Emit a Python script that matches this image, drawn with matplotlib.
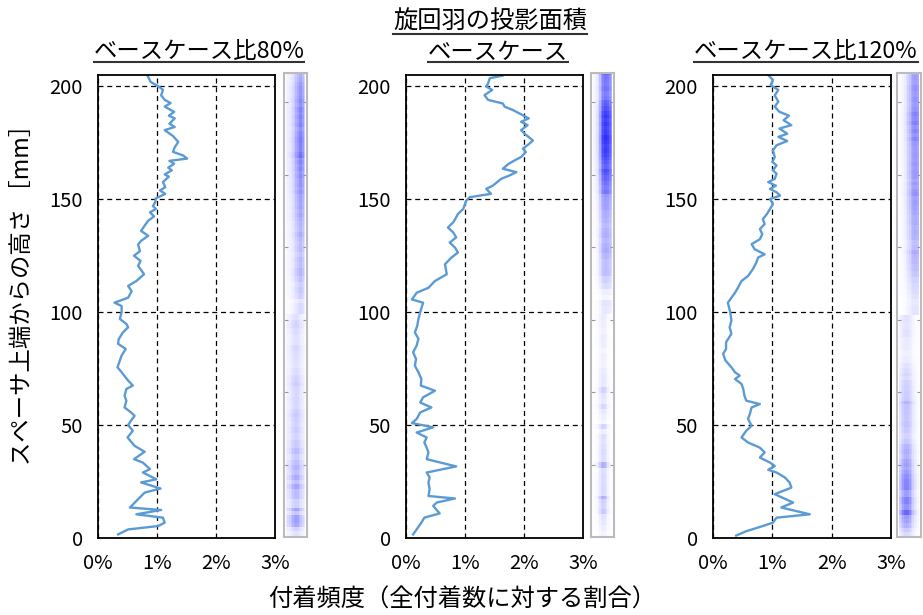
import numpy as np
import matplotlib.pyplot as plt
from matplotlib.colors import LinearSegmentedColormap
from matplotlib.lines import Line2D

plt.rcParams['font.family'] = ['Noto Sans CJK JP', 'DejaVu Sans']

title = '旋回羽の投影面積'
panel_titles = ['ベースケース比80%', 'ベースケース', 'ベースケース比120%']
ylabel = 'スペーサ上端からの高さ ［mm］'
xlabel = '付着頻度（全付着数に対する割合）'
xticks = [0, 1, 2, 3]
xticklabels = ['0%', '1%', '2%', '3%']
yticks = [0, 50, 100, 150, 200]

# height [mm] / frequency [%], top to bottom
h80 = [204.7, 202, 200, 198.5, 196, 194, 192.6, 191, 188.7, 187, 185.8, 183.5, 182, 180.6,
       178, 175.4, 173, 171, 169.4, 168, 167, 165.7, 164, 162.8, 161, 160, 157.6, 155.3,
       153.9, 152.4, 150.4, 148.7, 147, 145.7, 144.2, 142.4, 140.5, 138.3, 136, 133.8,
       131.6, 130, 127, 125, 122.7, 120.5, 116.8, 113.8, 111.6, 109.3, 106.4, 104.2, 102.7,
       100, 97, 94.8, 93.3, 91, 88, 86, 83.7, 80.8, 78.6, 75.6, 73.4, 69.7, 67.5, 66, 63,
       60.8, 57.8, 55.6, 54.1, 52, 50, 47.5, 44.5, 40.8, 38.2, 34.9, 33.4, 30.5, 29, 26,
       24.6, 21.9, 20.1, 13.5, 12.4, 10.5, 9, 6.8, 5.3, 3.8, 1.6]
f80 = [0.84, 0.89, 1.02, 1.10, 1.07, 1.13, 1.23, 1.13, 1.29, 1.20, 1.30, 1.21, 1.30, 1.13,
       1.27, 1.36, 1.30, 1.27, 1.44, 1.51, 1.21, 1.29, 1.19, 1.25, 1.13, 1.20, 1.10, 1.14,
       1.05, 1.14, 0.98, 0.97, 0.93, 0.98, 0.88, 0.95, 0.85, 0.79, 0.73, 0.85,
       0.73, 0.68, 0.71, 0.61, 0.72, 0.68, 0.78, 0.65, 0.51, 0.57, 0.51, 0.28, 0.40,
       0.40, 0.37, 0.48, 0.51, 0.42, 0.35, 0.34, 0.47, 0.40, 0.37, 0.33, 0.40, 0.51, 0.59, 0.48, 0.45,
       0.48, 0.45, 0.56, 0.62, 0.56, 0.51, 0.59, 0.50, 0.62, 0.79, 0.61, 0.76, 0.88, 0.76, 0.99,
       0.73, 1.06, 0.79, 0.54, 1.07, 0.65, 1.10, 1.13, 1.02, 0.51, 0.34]

h100 = [204.7, 203.6, 201.3, 199.9, 198.4, 196.1, 194, 192.4, 191, 189.5, 187.2, 185.8, 184.3,
        182.8, 180.6, 179, 176, 174.6, 172.4, 170.9, 168.7, 167.2, 165.7, 163.5, 162, 160.5,
        159, 156, 154.6, 152.4, 150.9, 149.4, 147.2, 145.7, 143.5, 142, 139.8, 137.5, 135.3,
        133.1, 130.8, 128.6, 126.4, 124.2, 121.2, 116.8, 113.8, 110.8, 108.6, 105.6, 104.2,
        100, 97, 94, 91, 88.2, 85.2, 82.2, 79.3, 76.3, 73.4, 70.4, 67.5, 65.2, 62.3, 60,
        57.8, 55.6, 52.7, 50.9, 49, 46.7, 44.5, 42.3, 40, 37.9, 34.9, 31.7, 29, 26.8, 24.6,
        21.6, 18.6, 17.5, 15.7, 14.2, 10.9, 9, 6.8, 3.8, 1.6]
f100 = [1.63, 1.42, 1.39, 1.36, 1.46, 1.33, 1.39, 1.64, 1.67, 1.81, 1.98, 2.08, 1.95,
        2.06, 1.95, 2.01, 2.15, 2.09, 1.98, 2.03, 1.95, 1.84, 1.74, 1.64, 1.87, 1.75,
        1.61, 1.47, 1.36, 1.44, 1.08, 1.02, 0.99, 0.97, 0.88, 0.85, 0.80, 0.71, 0.80,
        0.85, 0.74, 0.83, 0.88, 0.77, 0.66, 0.69, 0.49, 0.38, 0.18, 0.10, 0.29,
        0.24, 0.21, 0.19, 0.15, 0.21, 0.18, 0.12, 0.17, 0.15, 0.21, 0.26, 0.25, 0.49, 0.29, 0.24,
        0.43, 0.24, 0.18, 0.10, 0.46, 0.18, 0.35, 0.31, 0.35, 0.38, 0.35, 0.85, 0.35, 0.40, 0.38,
        0.40, 0.38, 0.83, 0.52, 0.46, 0.57, 0.31, 0.26, 0.18, 0.12]

h120 = [205, 202.8, 200.6, 198.4, 196, 193.2, 191, 188.7, 187, 185, 182.8, 181.3, 179, 177.6,
        175.8, 173.9, 171.6, 168.7, 166.5, 165, 162.8, 161.3, 159, 157.6, 156, 154.6, 153.1,
        151.6, 150.1, 147.9, 145.7, 143.5, 141.2, 139, 136.8, 134.6, 132.3, 130.1, 127.9,
        125.6, 124.2, 122, 119, 116, 113.8, 110.8, 108.6, 106.4, 104.2, 100, 96.3, 93.3,
        90.4, 86.7, 83.7, 81.5, 78.6, 75.6, 73.4, 71.9, 70.4, 68.2, 66, 63, 60.8, 59.3, 57.8,
        54.9, 52.7, 49.7, 47.5, 44.5, 42.3, 40, 37.9, 35.6, 33.4, 31.9, 30.2, 29, 26.8, 24.6,
        22.3, 19.4, 15.7, 13.5, 10.5, 9, 6.8, 5.3, 3, 1.1]
f120 = [0.93, 1.01, 0.97, 1.10, 1.04, 1.10, 1.04, 1.12, 1.28, 1.19, 1.32, 1.12, 1.25, 1.10,
        1.25, 1.07, 1.01, 1.04, 1.00, 1.07, 1.01, 1.07, 1.04, 0.93, 1.06, 0.96, 1.07,
        1.13, 0.96, 1.01, 0.96, 0.91, 0.84, 0.87, 0.79, 0.83, 0.79, 0.65, 0.70,
        0.87, 0.76, 0.73, 0.67, 0.59, 0.48, 0.42, 0.37, 0.31, 0.25, 0.29, 0.31, 0.28,
        0.31, 0.22, 0.22, 0.17, 0.21, 0.31, 0.37, 0.45, 0.37, 0.48, 0.51, 0.53, 0.56, 0.79, 0.65,
        0.62, 0.59, 0.65, 0.56, 0.48, 0.59, 0.79, 0.87, 0.79, 0.96, 1.04, 0.93, 1.07, 1.21, 1.29,
        1.32, 1.04, 1.35, 1.15, 1.63, 1.07, 1.01, 0.84, 0.56, 0.39]

# horizontal weight of the deposit strips (12 columns), above / below 100 mm
cols80_up = [0.10, 0.15, 0.2, 0.25, 0.35, 0.5, 0.65, 0.8, 1.0, 1.0, 0.8, 0.45]
cols80_lo = [0.25, 0.35, 0.45, 0.6, 0.75, 0.85, 0.9, 0.85, 0.7, 0.55, 0.4, 0.25]
cols100_up = [0.05, 0.08, 0.15, 0.25, 0.45, 0.7, 0.9, 1.0, 1.0, 0.95, 0.8, 0.6]
cols100_lo = [0.05, 0.1, 0.2, 0.35, 0.6, 0.9, 1.0, 0.9, 0.6, 0.35, 0.15, 0.05]
cols120_up = [0.05, 0.08, 0.12, 0.2, 0.3, 0.45, 0.6, 0.8, 0.95, 1.0, 1.0, 0.9]
cols120_lo = [0.45, 0.6, 0.8, 0.95, 1.0, 0.95, 0.8, 0.6, 0.4, 0.25, 0.15, 0.1]

heights = [h80, h100, h120]
freqs = [f80, f100, f120]
cols = [(cols80_up, cols80_lo), (cols100_up, cols100_lo), (cols120_up, cols120_lo)]

line_color = '#5b9bd5'
cmap = LinearSegmentedColormap.from_list('deposit', ['#ffffff', '#2020ff'])

fig = plt.figure(figsize=(9.23, 6.15), dpi=100)

ax_rects = [[0.1062, 0.1252, 0.1918, 0.7528],
            [0.4399, 0.1252, 0.1918, 0.7528],
            [0.7725, 0.1252, 0.1929, 0.7528]]
strip_rects = [[0.3077, 0.1268, 0.0249, 0.7545],
               [0.6403, 0.1268, 0.0249, 0.7545],
               [0.9718, 0.1268, 0.0260, 0.7545]]
title_x = [199 / 923, 498 / 923, 806 / 923]

sub_texts = []
for i in range(3):
    ax = fig.add_axes(ax_rects[i])
    ax.plot(freqs[i], heights[i], color=line_color, lw=1.7)
    ax.set_xlim(0, 3)
    ax.set_ylim(0, 205)
    ax.set_xticks(xticks)
    ax.set_xticklabels(xticklabels)
    ax.set_yticks(yticks)
    ax.tick_params(length=0, labelsize=14.5, pad=11)
    ax.grid(True, color='black', ls=(0, (4, 3)), lw=0.9)
    for sp in ax.spines.values():
        sp.set_linewidth(1.3)
        sp.set_color('black')

    # deposit strip
    sx = fig.add_axes(strip_rects[i])
    h = np.array(heights[i])[::-1]
    f = np.array(freqs[i])[::-1]
    edges = np.concatenate([[0], (h[1:] + h[:-1]) / 2, [205]])
    up, lo = cols[i]
    img = np.array([np.array(up if hh >= 100 else lo) * ff for hh, ff in zip(h, f)])
    sx.pcolormesh(np.linspace(0.08, 0.92, len(up) + 1), edges, img,
                  cmap=cmap, vmin=0, vmax=2.3, shading='flat')
    sx.set_xlim(0, 1)
    sx.set_ylim(0, 205)
    sx.set_xticks([])
    sx.set_yticks([32, 64, 96, 128, 160, 192])
    sx.tick_params(axis='y', direction='in', length=3, color='#999999',
                   left=True, right=True, labelleft=False)
    for sp in sx.spines.values():
        sp.set_linewidth(1.5)
        sp.set_color('#bbbbbb')

    sub_texts.append(fig.text(title_x[i], 1 - 52 / 615, panel_titles[i],
                              ha='center', va='center', fontsize=16.8))

main_title = fig.text(490 / 923, 1 - 22 / 615, title, ha='center', va='center', fontsize=17.5)
fig.text(22 / 923, 0.53, ylabel, rotation=90, ha='center', va='center', fontsize=16.8)
fig.text(462 / 923, 1 - 600 / 615, xlabel, ha='center', va='center', fontsize=17.5)

# underline titles
fig.canvas.draw()
renderer = fig.canvas.get_renderer()
for t in sub_texts + [main_title]:
    bb = t.get_window_extent(renderer).transformed(fig.transFigure.inverted())
    fig.add_artist(Line2D([bb.x0, bb.x1], [bb.y0 + 0.002, bb.y0 + 0.002],
                          transform=fig.transFigure, color='#333333', lw=1.5))

fig.savefig('out.png', dpi=100)
